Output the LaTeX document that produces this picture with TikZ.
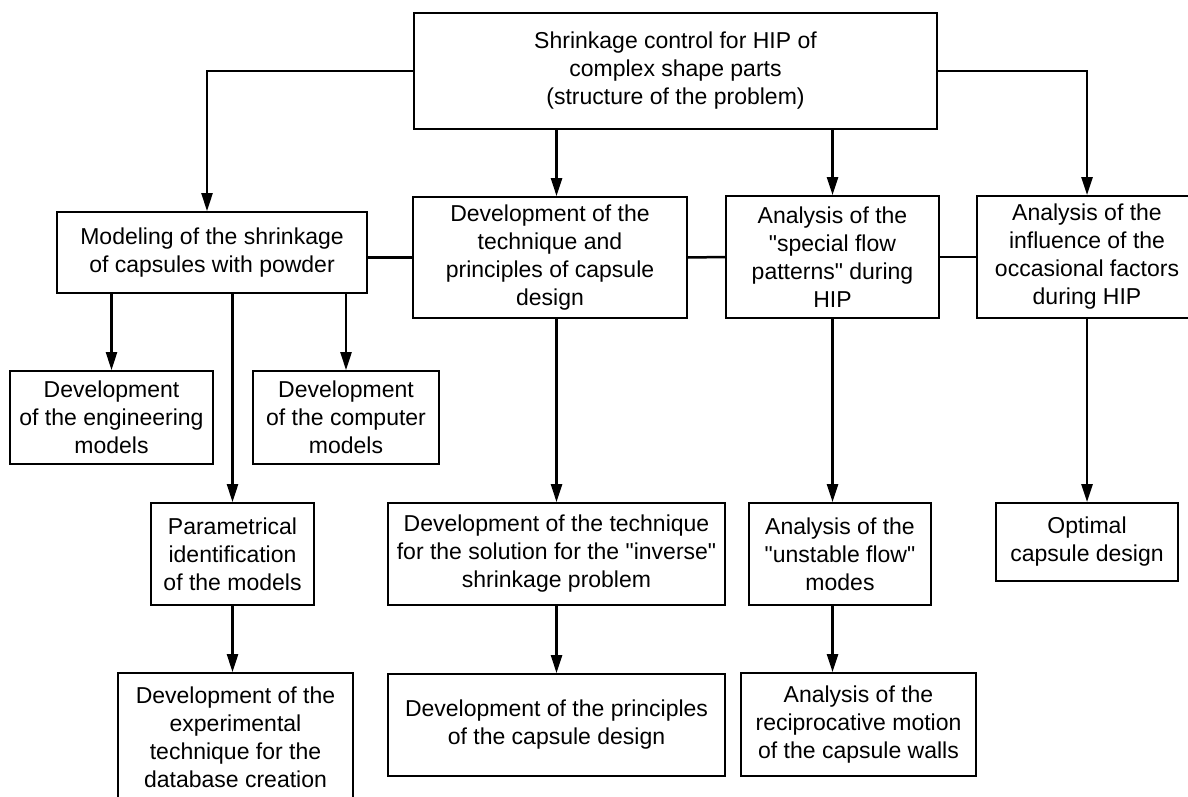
\documentclass[tikz,border=0pt]{standalone}
\usepackage{fontspec}
\newfontfamily\diagfont{Liberation Sans}
\usetikzlibrary{arrows.meta}

\tikzset{
  box/.style={draw, line width=1.8pt, align=center, inner sep=4pt,
    font=\diagfont\fontsize{23}{28}\selectfont},
  link/.style={line width=2.5pt},
  arr/.style={link, -{Triangle[length=18pt,width=11pt]}},
}

\begin{document}
\begin{tikzpicture}[x=1pt,y=-1pt]
\clip (0,0) rectangle (1188,797);
% Top of the structure
\node[box, minimum width=523, minimum height=116] (top) at (675.5,71)
  {Shrinkage control for HIP of\\complex shape parts\\(structure of the problem)};
% Second level
\node[box, minimum width=310, minimum height=81] (model) at (212,252.5)
  {Modeling of the shrinkage\\of capsules with powder};
\node[box, minimum width=274, minimum height=121] (tech) at (550,257.5)
  {Development of the\\technique and\\principles of capsule\\design};
\node[box, minimum width=213, minimum height=122] (special) at (832.5,257)
  {Analysis of the\\"special flow\\patterns" during\\HIP};
\node[box, minimum width=220, minimum height=122] (influence) at (1087,257)
  {Analysis of the\\influence of the\\occasional factors\\during HIP};
% Models
\node[box, minimum width=203, minimum height=93] (engmod) at (111.5,417.5)
  {Development\\of the engineering\\models};
\node[box, minimum width=186, minimum height=93] (compmod) at (346,417.5)
  {Development\\of the computer\\models};
% Third level
\node[box, minimum width=163, minimum height=102] (ident) at (232.5,554)
  {Parametrical\\identification\\of the models};
\node[box, minimum width=337, minimum height=102] (inverse) at (556.5,554)
  {Development of the technique\\for the solution for the "inverse"\\shrinkage problem};
\node[box, minimum width=182, minimum height=102] (unstable) at (840,554)
  {Analysis of the\\"unstable flow"\\modes};
\node[box, minimum width=182, minimum height=78] (optimal) at (1087,542)
  {Optimal\\capsule design};
% Bottom level
\node[box, minimum width=235, minimum height=129] (database) at (235.5,737.5)
  {Development of the\\experimental\\technique for the\\database creation};
\node[box, minimum width=337, minimum height=102] (principles) at (556.5,725)
  {Development of the principles\\of the capsule design};
\node[box, minimum width=235, minimum height=103] (walls) at (858.5,724.5)
  {Analysis of the\\reciprocative motion\\of the capsule walls};

% Connectors from the top box
\draw[arr] (top.west) -| ([xshift=-5pt]model.north);
\draw[arr] (top.east) -| (influence.north);
\draw[arr] (top.south -| inverse) -- (tech.north -| inverse);
\draw[arr] (top.south -| special) -- (special.north);
% Links along the second level
\draw[link] (model.east |- tech.west) -- (tech.west);
\draw[link] (tech.east) -- (special.west);
\draw[link] (special.east) -- (influence.west);
% Downward branches
\draw[arr] (model.south -| engmod) -- (engmod.north);
\draw[arr] (model.south -| compmod) -- (compmod.north);
\draw[arr] (model.south -| ident) -- (ident.north);
\draw[arr] (ident.south) -- (ident.south |- database.north);
\draw[arr] (tech.south -| inverse) -- (inverse.north);
\draw[arr] (inverse.south) -- (principles.north);
\draw[arr] (special.south) -- (special.south |- unstable.north);
\draw[arr] (unstable.south -| special) -- (walls.north -| special);
\draw[arr] (influence.south) -- (optimal.north);
\end{tikzpicture}
\end{document}
